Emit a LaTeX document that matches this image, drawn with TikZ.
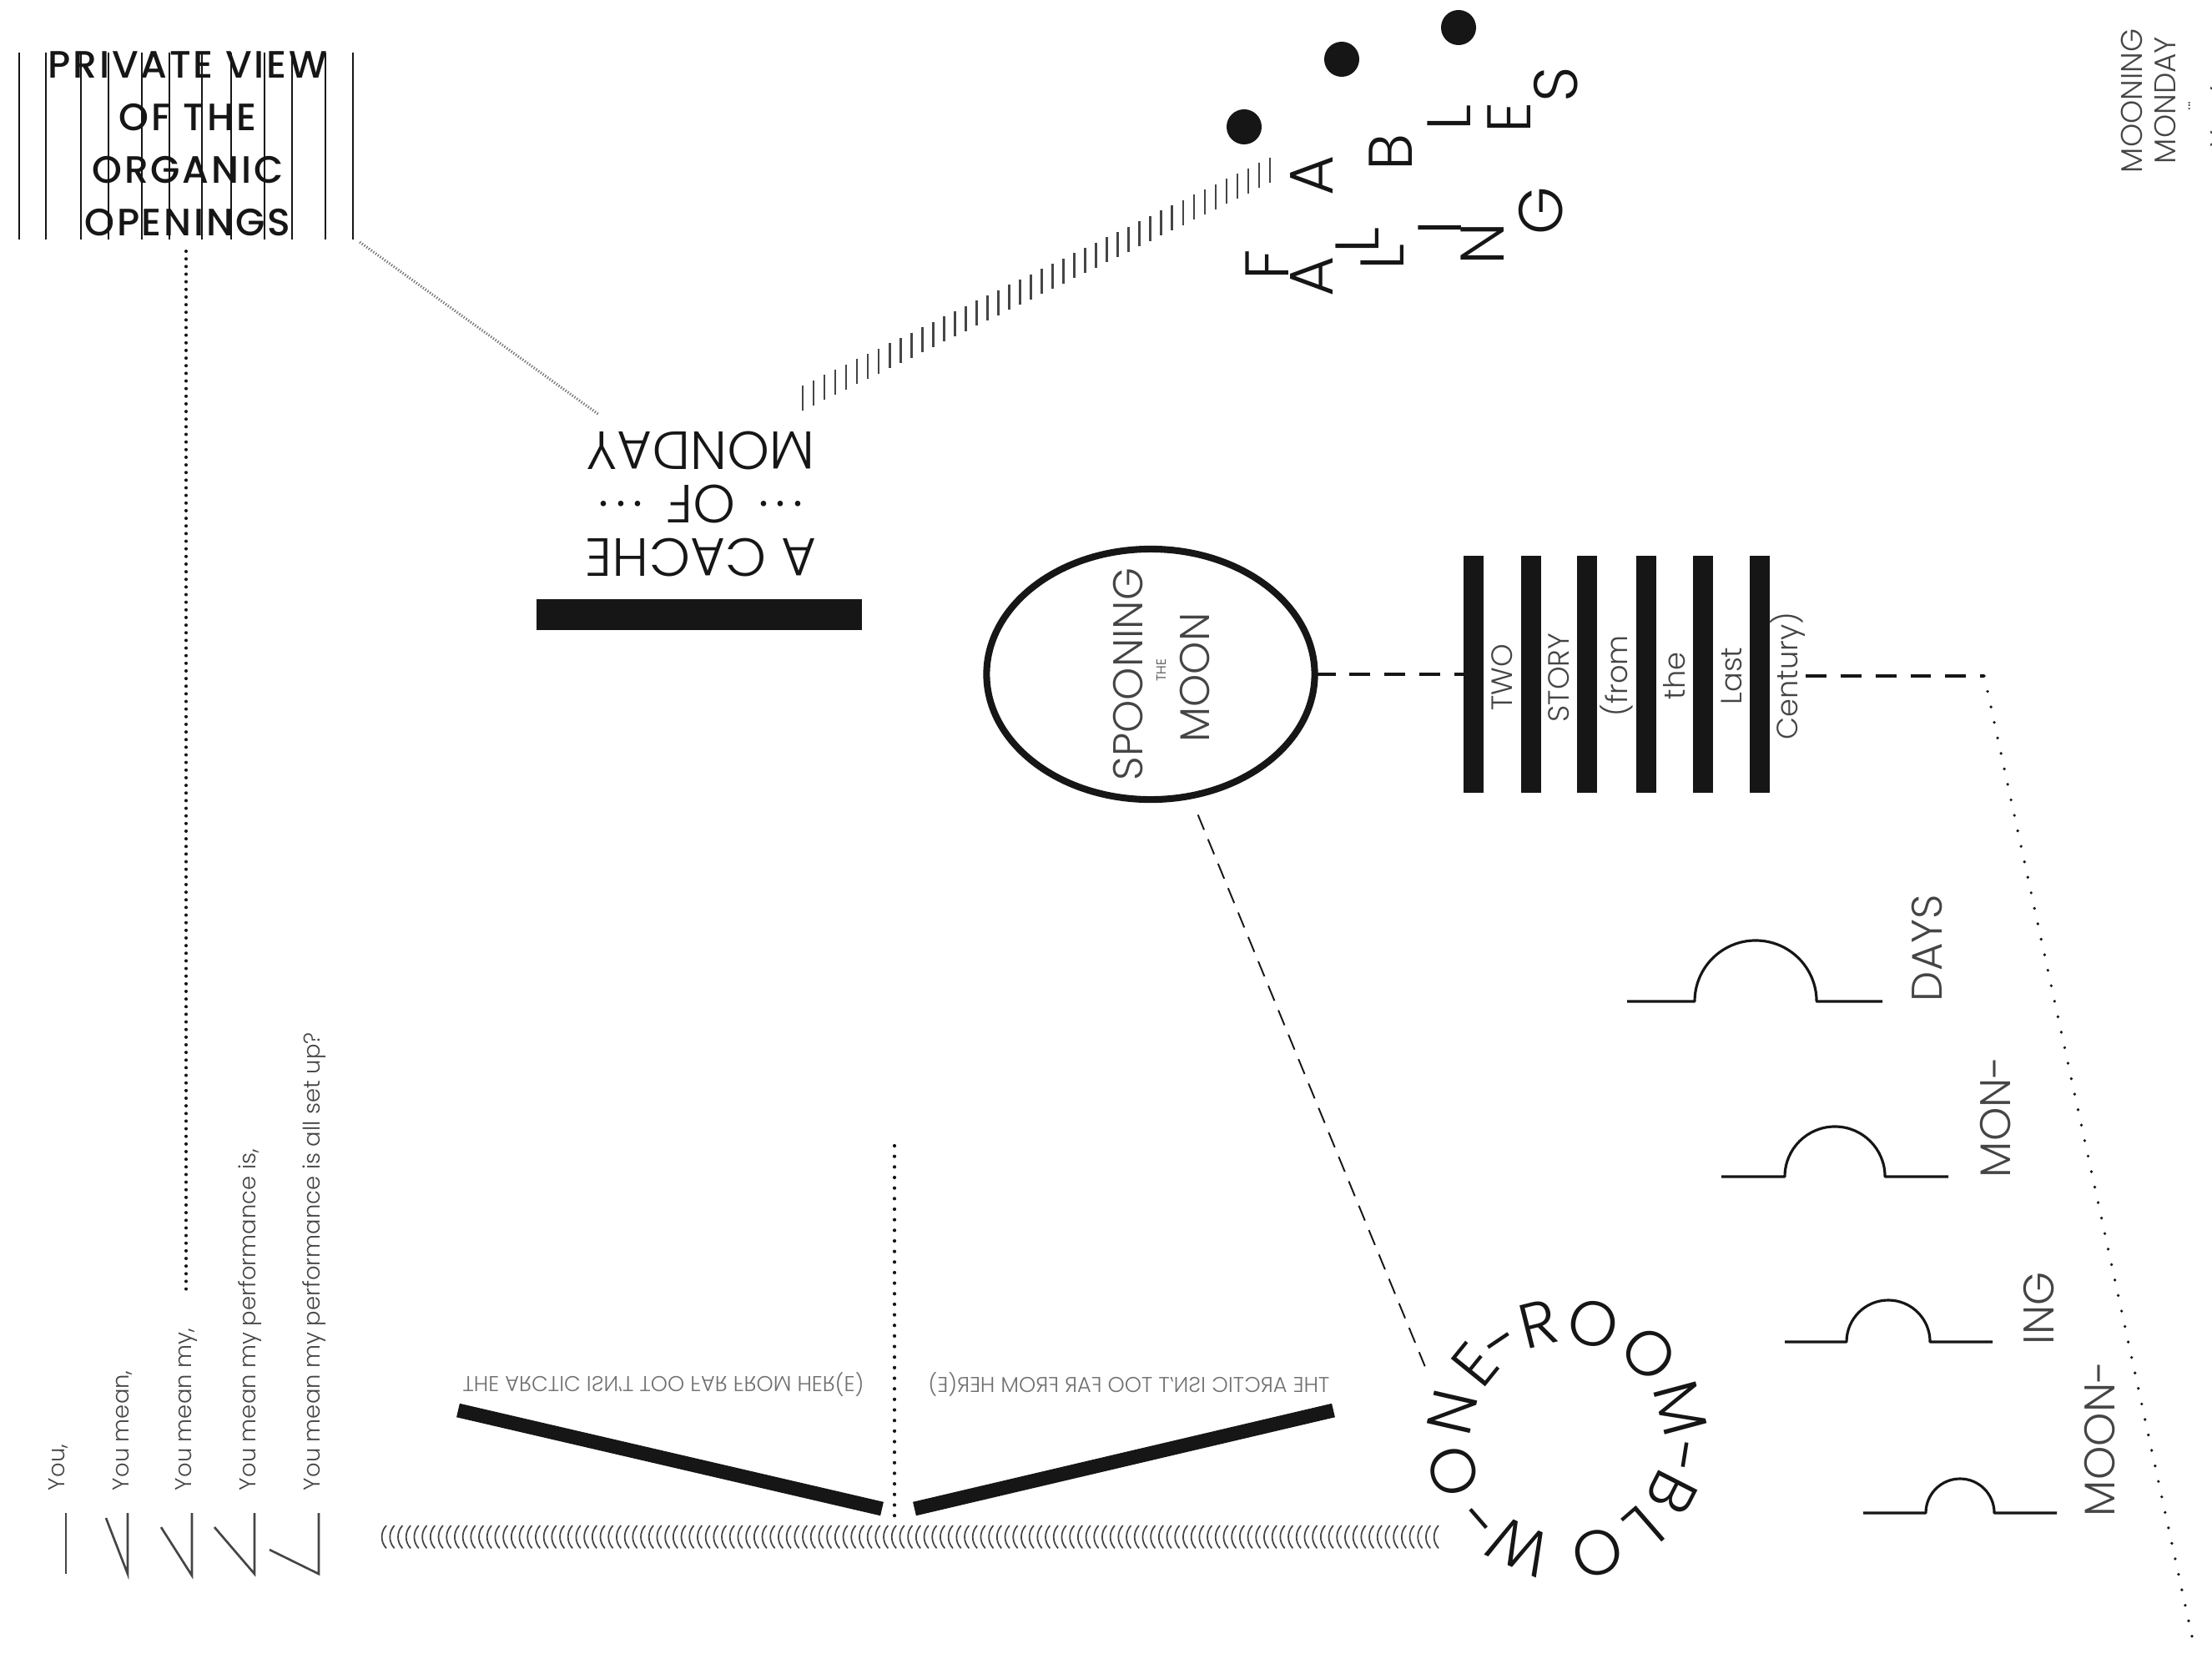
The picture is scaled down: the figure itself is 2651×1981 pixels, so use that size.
\documentclass[tikz,border=0pt]{standalone}
\usepackage{fontspec}
\setmainfont{Poppins}[UprightFont={* Light}, BoldFont={* Medium}]
\usetikzlibrary{calc,shapes.geometric}
\definecolor{ink}{HTML}{161616}
\definecolor{txt}{HTML}{454545}
\definecolor{lt}{HTML}{707070}
\newcommand{\fsz}[1]{\fontsize{#1}{#1}\selectfont}
\newcommand{\tdots}{·\hspace{2.5pt}·\hspace{2.5pt}·}
\tikzset{
  every node/.style={inner sep=0pt, outer sep=0pt},
  dotln/.style={line width=1.15pt, line cap=round, dash pattern=on 0pt off 2.6pt, draw=ink},
  fineln/.style={line width=0.9pt, dash pattern=on 0.35pt off 0.6pt, draw=lt},
  bigdash/.style={line width=1.15pt, dash pattern=on 7.1pt off 4.8pt, draw=ink},
  thindash/.style={line width=0.55pt, dash pattern=on 5.5pt off 3.5pt, draw=ink},
  sparsedot/.style={line width=1.05pt, line cap=round, dash pattern=on 0pt off 5.4pt, draw=ink},
  middot/.style={line width=1.2pt, line cap=round, dash pattern=on 0pt off 3.6pt, draw=ink},
  bump/.style={line width=0.9pt, draw=ink, line join=round},
  tickmark/.style={line width=0.75pt, draw=txt},
  paren/.style={line width=0.5pt, draw=txt},
  glyph/.style={line width=0.75pt, draw=txt},
  vbar/.style={line width=4.8pt, draw=ink},
  bigletter/.style={rotate=90, font=\fsz{21pt}, text=ink},
  ringletter/.style={font=\fsz{21.5pt}, text=ink, anchor=base},
  sidelabel/.style={rotate=90, anchor=west, font=\fsz{14.6pt}, text=txt},
  youtext/.style={rotate=90, anchor=west, font=\fsz{7.8pt}, text=txt},
  storytext/.style={rotate=90, font=\fsz{10pt}, text=txt},
  arctic/.style={font=\fsz{7.3pt}, text=lt},
}
\begin{document}
\begin{tikzpicture}[x=0.01cm,y=-0.01cm]
\useasboundingbox (0,0) rectangle (2651,1981);
\fill[white] (0,0) rectangle (2651,1981);
\clip (0,0) rectangle (2651,1981);

% ---------- PRIVATE VIEW block
\node[minimum width=4cm, minimum height=2.24cm] (pv) at (223,175) {};
\node[font=\bfseries\fontsize{13}{17.9}\selectfont\addfontfeatures{LetterSpace=6}, align=center, text=ink] (pvtext) at (225,172)
  {PRIVATE VIEW\\OF THE\\ORGANIC\\OPENINGS};
\foreach \x in {23,55,97,130,170,203,242,277,317,350,390,423}
  \draw[line width=0.85pt, draw=ink] (\x,63) -- (\x,287);

% ---------- A CACHE OF MONDAY
\node[rotate=180, font=\fontsize{18.3}{18.2}\selectfont, align=center, text=ink] (cache) at (840,604)
  {A CACHE\\\tdots\hspace{8pt}OF\hspace{8pt}\tdots\\MONDAY};
\node[fill=ink, minimum width=3.9cm, minimum height=0.37cm] (cachebar) at (838,736) {};

% ---------- FALLING / ABLES
\node[bigletter] (fF)  at (1519,317) {F};
\node[bigletter] (fA)  at (1572,331) {A};
\node[bigletter] (fL1) at (1627,288) {L};
\node[bigletter] (fL2) at (1657,308) {L};
\node[bigletter] (fI)  at (1726,273) {I};
\node[bigletter] (fN)  at (1777,292) {N};
\node[bigletter] (fG)  at (1847,253) {G};
\node[bigletter] (fA2) at (1572,210) {A};
\node[bigletter] (fB)  at (1667,182) {B};
\node[bigletter] (fL3) at (1737,141) {L};
\node[bigletter] (fE)  at (1809,141) {E};
\node[bigletter] (fS)  at (1865,101) {S};
\fill[ink] (1491,152) circle (0.21cm);
\fill[ink] (1608,71) circle (0.21cm);
\fill[ink] (1748,33) circle (0.21cm);

% connectors from the cache
\draw[fineln] ($(pv.south east)+(8,3)$) -- ($(cache)+(-122,-107)$);
\coordinate (t1) at ($(cache)+(122,-127)$);
\coordinate (t2) at ($(fA2)+(-50,-6)$);
\foreach \i in {0,...,43}
  \draw[tickmark] ($(t1)!\i/43!(t2)+(0,-15)$) -- ($(t1)!\i/43!(t2)+(0,15)$);

% ---------- SPOONING THE MOON
\node[ellipse, draw=ink, line width=2.3pt, minimum width=3.93cm, minimum height=3.0cm] (spoon) at (1379,808) {};
\node[rotate=90, font=\fsz{14.2pt}, text=txt] (spn) at (1352,808) {SPOONING};
\node[rotate=90, font=\fsz{4.5pt}, text=txt] (sthe) at (1392,803) {THE};
\node[rotate=90, font=\fsz{14.2pt}, text=txt] (smoon) at (1432,812) {MOON};

% ---------- TWO STORY bars
\foreach \x [count=\k] in {1766,1835,1902,1973,2041,2109}
  \node[fill=ink, minimum width=0.24cm, minimum height=2.84cm] (b\k) at (\x,808) {};
\node[storytext] (s1) at (1800,812) {TWO};
\node[storytext] (s2) at (1868,812) {STORY};
\node[storytext] (s3) at (1937,810) {(from};
\node[storytext] (s4) at (2007,810) {the};
\node[storytext] (s5) at (2075,810) {Last};
\node[storytext] (cent) at (2143,810) {Century)};

\coordinate (turn) at (2378,810);
\coordinate (corner) at (2627,1961);
\draw[bigdash] (spoon.east) -- (b1.west);
\draw[bigdash] (cent.south) -- (turn);
\draw[sparsedot] (turn) -- (corner);

% ---------- ONE-ROOM-BLOW- ring
\node[circle, minimum size=3.82cm] (room) at (1878,1724) {};
\foreach \c/\a in {O/196,N/167,E/141,-/124,R/104,O/77,O/46,M/15,-/-9,B/-27,L/-49,O/-75,W/-114,-/-139}
  \node[ringletter, rotate=\a-90] at ({1878+115*cos(\a)},{1724-115*sin(\a)}) {\c};
\draw[thindash, shorten <=7pt] (spoon.-72) -- (room.153);

% ---------- bumps
\draw[bump] (1950,1200) -- (2031,1200) arc (180:0:0.73cm) -- (2256,1200);
\draw[bump] (2063,1410) -- (2139,1410) arc (180:0:0.60cm) -- (2335,1410);
\draw[bump] (2139,1608) -- (2213,1608) arc (180:0:0.50cm) -- (2388,1608);
\draw[bump] (2233,1813) -- (2308,1813) arc (180:0:0.41cm) -- (2465,1813);
\node[sidelabel] (days) at (2310,1200) {DAYS};
\node[sidelabel] (mon)  at (2392,1411) {MON-};
\node[sidelabel] (ing)  at (2443,1611) {ING};
\node[sidelabel] (moon) at (2517,1817) {MOON-};

% ---------- MOONING MONDAY (corner)
\node[rotate=90, font=\fsz{10.2pt}, text=txt] (mm1) at (2555,121) {MOONING};
\node[rotate=90, font=\fsz{10.2pt}, text=txt] (mm2) at (2595,120) {MONDAY};
\node[rotate=90, font=\fsz{6pt}, text=txt] (mm3) at (2627,127) {···};
\node[rotate=90, font=\fsz{10.2pt}, text=txt] (mm4) at (2662,122) {You're};

% ---------- V bars and arctic texts
\draw[vbar] (549,1690) -- (1057,1808);
\draw[vbar] (1096,1808) -- (1598,1690);
\node[arctic, yscale=-1] (arcL) at (795,1659) {THE ARCTIC ISN'T TOO FAR FROM HER(E)};
\node[arctic, xscale=-1] (arcR) at (1353,1659) {THE ARCTIC ISN'T TOO FAR FROM HER(E)};
\coordinate (mid1) at (1072,1373);
\coordinate (mid2) at (1072,1817);
\draw[middot] (mid1) -- (mid2);

% ---------- parentheses line
\foreach \i in {0,...,130}
  \draw[paren] ({463+\i*9.7},1828) arc (137:223:0.2cm);

% ---------- You texts and glyphs
\draw[glyph] (79,1813) -- (79,1886);
\draw[glyph] (127,1819) -- (153,1886) -- (153,1813);
\draw[glyph] (193,1830) -- (230,1888) -- (230,1813);
\draw[glyph] (257,1830) -- (305,1886) -- (305,1813);
\draw[glyph] (323,1857) -- (382,1886) -- (382,1813);
\node[youtext] (y1) at (70,1786) {You,};
\node[youtext] (y2) at (147,1786) {You mean,};
\node[youtext] (y3) at (223,1786) {You mean my,};
\node[youtext] (y4) at (300,1786) {You mean my performance is,};
\node[youtext] (y5) at (377,1786) {You mean my performance is all set up?};
\draw[dotln] ($(pv.south)+(0,14)$) -- ($(y3.east)+(0,-46)$);
\end{tikzpicture}
\end{document}
